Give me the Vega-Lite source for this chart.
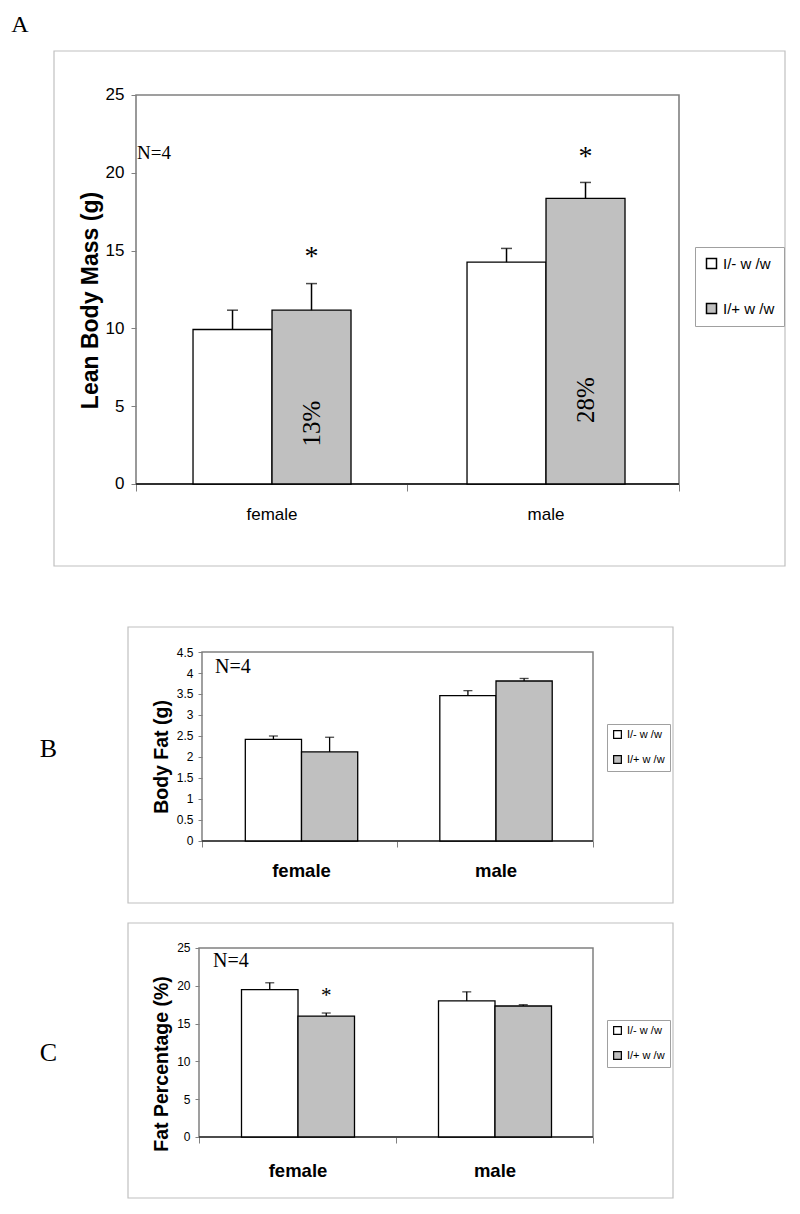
{
  "$schema": "https://vega.github.io/schema/vega-lite/v6.json",
  "autosize": {"type": "pad"},
  "padding": 0,
  "background": "white",
  "spacing": 0,
  "bounds": "flush",
  "resolve": {"scale": {"xOffset": "independent", "fill": "independent"}, "legend": {"fill": "independent"}},
  "config": {
    "view": {"stroke": null},
    "axis": {"grid": false, "labelColor": "black", "titleColor": "black", "labelOverlap": false}
  },
  "datasets": {
    "one": [{"panel": "frame"}],
    "a": [
      {"sex": "female", "genotype": "I/- w /w", "mean": 9.93, "upper": 11.17},
      {"sex": "female", "genotype": "I/+ w /w", "mean": 11.17, "upper": 12.88},
      {"sex": "male", "genotype": "I/- w /w", "mean": 14.26, "upper": 15.14},
      {"sex": "male", "genotype": "I/+ w /w", "mean": 18.36, "upper": 19.38}
    ],
    "b": [
      {"sex": "female", "genotype": "I/- w /w", "mean": 2.42, "upper": 2.5},
      {"sex": "female", "genotype": "I/+ w /w", "mean": 2.12, "upper": 2.47},
      {"sex": "male", "genotype": "I/- w /w", "mean": 3.46, "upper": 3.58},
      {"sex": "male", "genotype": "I/+ w /w", "mean": 3.81, "upper": 3.87}
    ],
    "c": [
      {"sex": "female", "genotype": "I/- w /w", "mean": 19.5, "upper": 20.4},
      {"sex": "female", "genotype": "I/+ w /w", "mean": 16.0, "upper": 16.4},
      {"sex": "male", "genotype": "I/- w /w", "mean": 18.0, "upper": 19.2},
      {"sex": "male", "genotype": "I/+ w /w", "mean": 17.33, "upper": 17.5}
    ],
    "starsA": [
      {"sex": "female", "genotype": "I/+ w /w", "y": 14.07, "label": "*"},
      {"sex": "male", "genotype": "I/+ w /w", "y": 20.5, "label": "*"}
    ],
    "pctA": [
      {"sex": "female", "genotype": "I/+ w /w", "y": 3.89, "label": "13%"},
      {"sex": "male", "genotype": "I/+ w /w", "y": 5.4, "label": "28%"}
    ],
    "starsC": [
      {"sex": "female", "genotype": "I/+ w /w", "y": 17.86, "label": "*"}
    ]
  },
  "vconcat": [
    {
      "width": 800,
      "height": 600,
      "resolve": {"scale": {"x": "independent"}, "axis": {"x": "independent"}},
      "layer": [
        {
          "data": {"name": "one"},
          "mark": {"type": "rect", "filled": false, "color": "#c0c0c0", "strokeWidth": 1.2},
          "encoding": {
            "x": {"datum": -0.15101, "type": "quantitative", "scale": {"domain": [-0.25046, 1.22284], "nice": false, "zero": false},
              "axis": {"orient": "bottom", "offset": -116, "values": [0, 0.5, 1], "tickCount": 20, "labels": false, "domain": false, "ticks": true, "tickSize": 7, "tickColor": "#808080", "title": null}},
            "x2": {"datum": 1.19521},
            "y": {"datum": -5.27, "type": "quantitative", "scale": {"domain": [-7.455, 31.105], "nice": false, "zero": false}},
            "y2": {"datum": 27.828}
          }
        },
        {
          "data": {"name": "one"},
          "mark": {"type": "rect", "filled": false, "color": "#808080", "strokeWidth": 1.6},
          "encoding": {
            "x": {"datum": 0, "type": "quantitative", "scale": {"domain": [-0.25046, 1.22284], "nice": false, "zero": false}, "axis": null},
            "x2": {"datum": 1},
            "y": {"datum": 0, "type": "quantitative", "scale": {"domain": [-7.455, 31.105], "nice": false, "zero": false}},
            "y2": {"datum": 25}
          }
        },
        {
          "data": {"name": "one"},
          "mark": {"type": "rule", "color": "#303030", "strokeWidth": 1.8},
          "encoding": {
            "x": {"datum": 0, "type": "quantitative", "scale": {"domain": [-0.25046, 1.22284], "nice": false, "zero": false}, "axis": null},
            "x2": {"datum": 1},
            "y": {"datum": 0, "type": "quantitative", "scale": {"domain": [-7.455, 31.105], "nice": false, "zero": false}}
          }
        },
        {
          "data": {"name": "one"},
          "mark": {"type": "text", "font": "Liberation Serif", "fontSize": 24, "align": "center", "baseline": "middle", "color": "black"},
          "encoding": {
            "x": {"datum": -0.2136, "type": "quantitative", "scale": {"domain": [-0.25046, 1.22284], "nice": false, "zero": false}, "axis": null},
            "y": {"datum": 29.5, "type": "quantitative", "scale": {"domain": [-7.455, 31.105], "nice": false, "zero": false}},
            "text": {"value": "A"}
          }
        },
        {
          "data": {"name": "one"},
          "mark": {"type": "text", "font": "Liberation Serif", "fontSize": 19, "align": "left", "baseline": "middle", "color": "black"},
          "encoding": {
            "x": {"datum": 0.002, "type": "quantitative", "scale": {"domain": [-0.25046, 1.22284], "nice": false, "zero": false}, "axis": null},
            "y": {"datum": 21.27, "type": "quantitative", "scale": {"domain": [-7.455, 31.105], "nice": false, "zero": false}},
            "text": {"value": "N=4"}
          }
        },
        {
          "data": {"name": "a"},
          "mark": {"type": "bar", "stroke": "black", "strokeWidth": 1.3},
          "encoding": {
            "x": {"field": "sex", "type": "nominal", "scale": {"domain": ["female", "male"], "paddingInner": 0.4234, "paddingOuter": 0.67155, "align": 0.5245},
              "axis": {"orient": "bottom", "offset": -116, "title": null, "domain": false, "ticks": false, "tickSize": 0, "labelAngle": 0, "labelPadding": 22, "labelFont": "Liberation Sans", "labelFontSize": 17}},
            "xOffset": {"field": "genotype", "type": "nominal", "scale": {"domain": ["I/- w /w", "I/+ w /w"], "paddingInner": 0, "paddingOuter": 0}},
            "y": {"field": "mean", "type": "quantitative", "scale": {"domain": [-7.455, 31.105], "nice": false, "zero": false},
              "axis": {"orient": "left", "offset": -136, "values": [0, 5, 10, 15, 20, 25], "tickCount": 20, "domain": false, "ticks": true, "labels": true, "labelOverlap": false, "tickSize": 5, "tickColor": "#808080", "labelPadding": 7, "labelFont": "Liberation Sans", "labelFontSize": 17, "title": "Lean Body Mass (g)", "titleFont": "Liberation Sans", "titleFontWeight": "bold", "titleFontSize": 23, "titlePadding": 3}},
            "y2": {"datum": 0},
            "fill": {"field": "genotype", "type": "nominal", "scale": {"domain": ["I/- w /w", "I/+ w /w"], "range": ["#ffffff", "#c0c0c0"]},
              "legend": {"orient": "none", "legendX": 695, "legendY": 247, "title": null, "symbolType": "square", "symbolSize": 100, "symbolStrokeColor": "black", "symbolStrokeWidth": 1.5, "symbolOpacity": 1, "labelFont": "Liberation Sans", "labelFontSize": 15, "labelColor": "black", "labelOffset": 4, "rowPadding": 28, "padding": 9, "strokeColor": "#a0a0a0", "fillColor": "white"}}
          }
        },
        {
          "data": {"name": "a"},
          "mark": {"type": "rule", "color": "black", "strokeWidth": 1.5},
          "encoding": {
            "x": {"field": "sex", "type": "nominal", "scale": {"domain": ["female", "male"], "paddingInner": 0.4234, "paddingOuter": 0.67155, "align": 0.5245}, "axis": null},
            "xOffset": {"field": "genotype", "type": "nominal", "scale": {"domain": ["I/- w /w", "I/+ w /w"]}},
            "y": {"field": "mean", "type": "quantitative", "scale": {"domain": [-7.455, 31.105], "nice": false, "zero": false}},
            "y2": {"field": "upper"}
          }
        },
        {
          "data": {"name": "a"},
          "mark": {"type": "tick", "color": "black", "thickness": 1.5, "size": 11, "orient": "horizontal"},
          "encoding": {
            "x": {"field": "sex", "type": "nominal", "scale": {"domain": ["female", "male"], "paddingInner": 0.4234, "paddingOuter": 0.67155, "align": 0.5245}, "axis": null},
            "xOffset": {"field": "genotype", "type": "nominal", "scale": {"domain": ["I/- w /w", "I/+ w /w"]}},
            "y": {"field": "upper", "type": "quantitative", "scale": {"domain": [-7.455, 31.105], "nice": false, "zero": false}}
          }
        },
        {
          "data": {"name": "starsA"},
          "mark": {"type": "text", "font": "Liberation Serif", "fontSize": 28, "align": "center", "baseline": "alphabetic", "color": "black"},
          "encoding": {
            "x": {"field": "sex", "type": "nominal", "scale": {"domain": ["female", "male"], "paddingInner": 0.4234, "paddingOuter": 0.67155, "align": 0.5245}, "axis": null},
            "xOffset": {"field": "genotype", "type": "nominal", "scale": {"domain": ["I/- w /w", "I/+ w /w"]}},
            "y": {"field": "y", "type": "quantitative", "scale": {"domain": [-7.455, 31.105], "nice": false, "zero": false}},
            "text": {"field": "label"}
          }
        },
        {
          "data": {"name": "pctA"},
          "mark": {"type": "text", "font": "Liberation Serif", "fontSize": 25, "angle": 270, "align": "center", "baseline": "middle", "color": "black"},
          "encoding": {
            "x": {"field": "sex", "type": "nominal", "scale": {"domain": ["female", "male"], "paddingInner": 0.4234, "paddingOuter": 0.67155, "align": 0.5245}, "axis": null},
            "xOffset": {"field": "genotype", "type": "nominal", "scale": {"domain": ["I/- w /w", "I/+ w /w"]}},
            "y": {"field": "y", "type": "quantitative", "scale": {"domain": [-7.455, 31.105], "nice": false, "zero": false}},
            "text": {"field": "label"}
          }
        }
      ]
    },
    {
      "width": 680,
      "height": 313,
      "resolve": {"scale": {"x": "independent"}, "axis": {"x": "independent"}},
      "layer": [
        {
          "data": {"name": "one"},
          "mark": {"type": "rect", "filled": false, "color": "#c0c0c0", "strokeWidth": 1.2},
          "encoding": {
            "x": {"datum": -0.18926, "type": "quantitative", "scale": {"domain": [-0.51662, 1.22251], "nice": false, "zero": false},
              "axis": {"orient": "bottom", "offset": -72, "values": [0, 0.5, 1], "tickCount": 20, "labels": false, "domain": false, "ticks": true, "tickSize": 6, "tickColor": "#808080", "title": null}},
            "x2": {"datum": 1.2046},
            "y": {"datum": -1.4762, "type": "quantitative", "scale": {"domain": [-1.7143, 5.7381], "nice": false, "zero": false}},
            "y2": {"datum": 5.0952}
          }
        },
        {
          "data": {"name": "one"},
          "mark": {"type": "rect", "filled": false, "color": "#808080", "strokeWidth": 1.5},
          "encoding": {
            "x": {"datum": 0, "type": "quantitative", "scale": {"domain": [-0.51662, 1.22251], "nice": false, "zero": false}, "axis": null},
            "x2": {"datum": 1},
            "y": {"datum": 0, "type": "quantitative", "scale": {"domain": [-1.7143, 5.7381], "nice": false, "zero": false}},
            "y2": {"datum": 4.5}
          }
        },
        {
          "data": {"name": "one"},
          "mark": {"type": "rule", "color": "#303030", "strokeWidth": 1.5},
          "encoding": {
            "x": {"datum": 0, "type": "quantitative", "scale": {"domain": [-0.51662, 1.22251], "nice": false, "zero": false}, "axis": null},
            "x2": {"datum": 1},
            "y": {"datum": 0, "type": "quantitative", "scale": {"domain": [-1.7143, 5.7381], "nice": false, "zero": false}}
          }
        },
        {
          "data": {"name": "one"},
          "mark": {"type": "text", "font": "Liberation Serif", "fontSize": 26, "align": "center", "baseline": "middle", "color": "black"},
          "encoding": {
            "x": {"datum": -0.39258, "type": "quantitative", "scale": {"domain": [-0.51662, 1.22251], "nice": false, "zero": false}, "axis": null},
            "y": {"datum": 2.1905, "type": "quantitative", "scale": {"domain": [-1.7143, 5.7381], "nice": false, "zero": false}},
            "text": {"value": "B"}
          }
        },
        {
          "data": {"name": "one"},
          "mark": {"type": "text", "font": "Liberation Serif", "fontSize": 20, "align": "left", "baseline": "middle", "color": "black"},
          "encoding": {
            "x": {"datum": 0.0332, "type": "quantitative", "scale": {"domain": [-0.51662, 1.22251], "nice": false, "zero": false}, "axis": null},
            "y": {"datum": 4.143, "type": "quantitative", "scale": {"domain": [-1.7143, 5.7381], "nice": false, "zero": false}},
            "text": {"value": "N=4"}
          }
        },
        {
          "data": {"name": "b"},
          "mark": {"type": "bar", "stroke": "black", "strokeWidth": 1.3},
          "encoding": {
            "x": {"field": "sex", "type": "nominal", "scale": {"domain": ["female", "male"], "paddingInner": 0.4221, "paddingOuter": 0.9591, "align": 0.6575},
              "axis": {"orient": "bottom", "offset": -72, "title": null, "domain": false, "ticks": false, "tickSize": 0, "labelAngle": 0, "labelPadding": 20, "labelFont": "Liberation Sans", "labelFontWeight": "bold", "labelFontSize": 18.5}},
            "xOffset": {"field": "genotype", "type": "nominal", "scale": {"domain": ["I/- w /w", "I/+ w /w"], "paddingInner": 0, "paddingOuter": 0}},
            "y": {"field": "mean", "type": "quantitative", "scale": {"domain": [-1.7143, 5.7381], "nice": false, "zero": false},
              "axis": {"orient": "left", "offset": -202, "values": [0, 0.5, 1, 1.5, 2, 2.5, 3, 3.5, 4, 4.5], "tickCount": 20, "format": "~g", "domain": false, "ticks": true, "labels": true, "labelOverlap": false, "tickSize": 4, "tickColor": "#808080", "labelPadding": 5, "labelFont": "Liberation Sans", "labelFontSize": 12, "title": "Body Fat (g)", "titleFont": "Liberation Sans", "titleFontWeight": "bold", "titleFontSize": 19.5, "titlePadding": 5}},
            "y2": {"datum": 0},
            "fill": {"field": "genotype", "type": "nominal", "scale": {"domain": ["I/- w /w", "I/+ w /w"], "range": ["#ffffff", "#c0c0c0"]},
              "legend": {"orient": "none", "legendX": 607, "legendY": 124, "title": null, "symbolType": "square", "symbolSize": 60, "symbolStrokeColor": "black", "symbolStrokeWidth": 1.2, "symbolOpacity": 1, "labelFont": "Liberation Sans", "labelFontSize": 11, "labelColor": "black", "labelOffset": 4, "rowPadding": 12, "padding": 5, "strokeColor": "#a0a0a0", "fillColor": "white"}}
          }
        },
        {
          "data": {"name": "b"},
          "mark": {"type": "rule", "color": "black", "strokeWidth": 1.3},
          "encoding": {
            "x": {"field": "sex", "type": "nominal", "scale": {"domain": ["female", "male"], "paddingInner": 0.4221, "paddingOuter": 0.9591, "align": 0.6575}, "axis": null},
            "xOffset": {"field": "genotype", "type": "nominal", "scale": {"domain": ["I/- w /w", "I/+ w /w"]}},
            "y": {"field": "mean", "type": "quantitative", "scale": {"domain": [-1.7143, 5.7381], "nice": false, "zero": false}},
            "y2": {"field": "upper"}
          }
        },
        {
          "data": {"name": "b"},
          "mark": {"type": "tick", "color": "black", "thickness": 1.3, "size": 9, "orient": "horizontal"},
          "encoding": {
            "x": {"field": "sex", "type": "nominal", "scale": {"domain": ["female", "male"], "paddingInner": 0.4221, "paddingOuter": 0.9591, "align": 0.6575}, "axis": null},
            "xOffset": {"field": "genotype", "type": "nominal", "scale": {"domain": ["I/- w /w", "I/+ w /w"]}},
            "y": {"field": "upper", "type": "quantitative", "scale": {"domain": [-1.7143, 5.7381], "nice": false, "zero": false}}
          }
        }
      ]
    },
    {
      "width": 680,
      "height": 301,
      "resolve": {"scale": {"x": "independent"}, "axis": {"x": "independent"}},
      "layer": [
        {
          "data": {"name": "one"},
          "mark": {"type": "rect", "filled": false, "color": "#c0c0c0", "strokeWidth": 1.2},
          "encoding": {
            "x": {"datum": -0.1802, "type": "quantitative", "scale": {"domain": [-0.50508, 1.22081], "nice": false, "zero": false},
              "axis": {"orient": "bottom", "offset": -77, "values": [0, 0.5, 1], "tickCount": 20, "labels": false, "domain": false, "ticks": true, "tickSize": 6, "tickColor": "#808080", "title": null}},
            "x2": {"datum": 1.20305},
            "y": {"datum": -8.0688, "type": "quantitative", "scale": {"domain": [-10.1852, 29.6296], "nice": false, "zero": false}},
            "y2": {"datum": 28.3069}
          }
        },
        {
          "data": {"name": "one"},
          "mark": {"type": "rect", "filled": false, "color": "#808080", "strokeWidth": 1.5},
          "encoding": {
            "x": {"datum": 0, "type": "quantitative", "scale": {"domain": [-0.50508, 1.22081], "nice": false, "zero": false}, "axis": null},
            "x2": {"datum": 1},
            "y": {"datum": 0, "type": "quantitative", "scale": {"domain": [-10.1852, 29.6296], "nice": false, "zero": false}},
            "y2": {"datum": 25}
          }
        },
        {
          "data": {"name": "one"},
          "mark": {"type": "rule", "color": "#303030", "strokeWidth": 1.5},
          "encoding": {
            "x": {"datum": 0, "type": "quantitative", "scale": {"domain": [-0.50508, 1.22081], "nice": false, "zero": false}, "axis": null},
            "x2": {"datum": 1},
            "y": {"datum": 0, "type": "quantitative", "scale": {"domain": [-10.1852, 29.6296], "nice": false, "zero": false}}
          }
        },
        {
          "data": {"name": "one"},
          "mark": {"type": "text", "font": "Liberation Serif", "fontSize": 26, "align": "center", "baseline": "middle", "color": "black"},
          "encoding": {
            "x": {"datum": -0.38198, "type": "quantitative", "scale": {"domain": [-0.50508, 1.22081], "nice": false, "zero": false}, "axis": null},
            "y": {"datum": 11.111, "type": "quantitative", "scale": {"domain": [-10.1852, 29.6296], "nice": false, "zero": false}},
            "text": {"value": "C"}
          }
        },
        {
          "data": {"name": "one"},
          "mark": {"type": "text", "font": "Liberation Serif", "fontSize": 20, "align": "left", "baseline": "middle", "color": "black"},
          "encoding": {
            "x": {"datum": 0.0355, "type": "quantitative", "scale": {"domain": [-0.50508, 1.22081], "nice": false, "zero": false}, "axis": null},
            "y": {"datum": 23.28, "type": "quantitative", "scale": {"domain": [-10.1852, 29.6296], "nice": false, "zero": false}},
            "text": {"value": "N=4"}
          }
        },
        {
          "data": {"name": "c"},
          "mark": {"type": "bar", "stroke": "black", "strokeWidth": 1.3},
          "encoding": {
            "x": {"field": "sex", "type": "nominal", "scale": {"domain": ["female", "male"], "paddingInner": 0.4264, "paddingOuter": 0.9391, "align": 0.6527},
              "axis": {"orient": "bottom", "offset": -77, "title": null, "domain": false, "ticks": false, "tickSize": 0, "labelAngle": 0, "labelPadding": 24, "labelFont": "Liberation Sans", "labelFontWeight": "bold", "labelFontSize": 18.5}},
            "xOffset": {"field": "genotype", "type": "nominal", "scale": {"domain": ["I/- w /w", "I/+ w /w"], "paddingInner": 0, "paddingOuter": 0}},
            "y": {"field": "mean", "type": "quantitative", "scale": {"domain": [-10.1852, 29.6296], "nice": false, "zero": false},
              "axis": {"orient": "left", "offset": -199, "values": [0, 5, 10, 15, 20, 25], "tickCount": 20, "domain": false, "ticks": true, "labels": true, "labelOverlap": false, "tickSize": 4, "tickColor": "#808080", "labelPadding": 5, "labelFont": "Liberation Sans", "labelFontSize": 12, "title": "Fat Percentage (%)", "titleFont": "Liberation Sans", "titleFontWeight": "bold", "titleFontSize": 19.5, "titlePadding": 5}},
            "y2": {"datum": 0},
            "fill": {"field": "genotype", "type": "nominal", "scale": {"domain": ["I/- w /w", "I/+ w /w"], "range": ["#ffffff", "#c0c0c0"]},
              "legend": {"orient": "none", "legendX": 607, "legendY": 107, "title": null, "symbolType": "square", "symbolSize": 60, "symbolStrokeColor": "black", "symbolStrokeWidth": 1.2, "symbolOpacity": 1, "labelFont": "Liberation Sans", "labelFontSize": 11, "labelColor": "black", "labelOffset": 4, "rowPadding": 12, "padding": 5, "strokeColor": "#a0a0a0", "fillColor": "white"}}
          }
        },
        {
          "data": {"name": "c"},
          "mark": {"type": "rule", "color": "black", "strokeWidth": 1.3},
          "encoding": {
            "x": {"field": "sex", "type": "nominal", "scale": {"domain": ["female", "male"], "paddingInner": 0.4264, "paddingOuter": 0.9391, "align": 0.6527}, "axis": null},
            "xOffset": {"field": "genotype", "type": "nominal", "scale": {"domain": ["I/- w /w", "I/+ w /w"]}},
            "y": {"field": "mean", "type": "quantitative", "scale": {"domain": [-10.1852, 29.6296], "nice": false, "zero": false}},
            "y2": {"field": "upper"}
          }
        },
        {
          "data": {"name": "c"},
          "mark": {"type": "tick", "color": "black", "thickness": 1.3, "size": 9, "orient": "horizontal"},
          "encoding": {
            "x": {"field": "sex", "type": "nominal", "scale": {"domain": ["female", "male"], "paddingInner": 0.4264, "paddingOuter": 0.9391, "align": 0.6527}, "axis": null},
            "xOffset": {"field": "genotype", "type": "nominal", "scale": {"domain": ["I/- w /w", "I/+ w /w"]}},
            "y": {"field": "upper", "type": "quantitative", "scale": {"domain": [-10.1852, 29.6296], "nice": false, "zero": false}}
          }
        },
        {
          "data": {"name": "starsC"},
          "mark": {"type": "text", "font": "Liberation Serif", "fontSize": 21, "align": "center", "baseline": "alphabetic", "color": "black"},
          "encoding": {
            "x": {"field": "sex", "type": "nominal", "scale": {"domain": ["female", "male"], "paddingInner": 0.4264, "paddingOuter": 0.9391, "align": 0.6527}, "axis": null},
            "xOffset": {"field": "genotype", "type": "nominal", "scale": {"domain": ["I/- w /w", "I/+ w /w"]}},
            "y": {"field": "y", "type": "quantitative", "scale": {"domain": [-10.1852, 29.6296], "nice": false, "zero": false}},
            "text": {"field": "label"}
          }
        }
      ]
    }
  ]
}
